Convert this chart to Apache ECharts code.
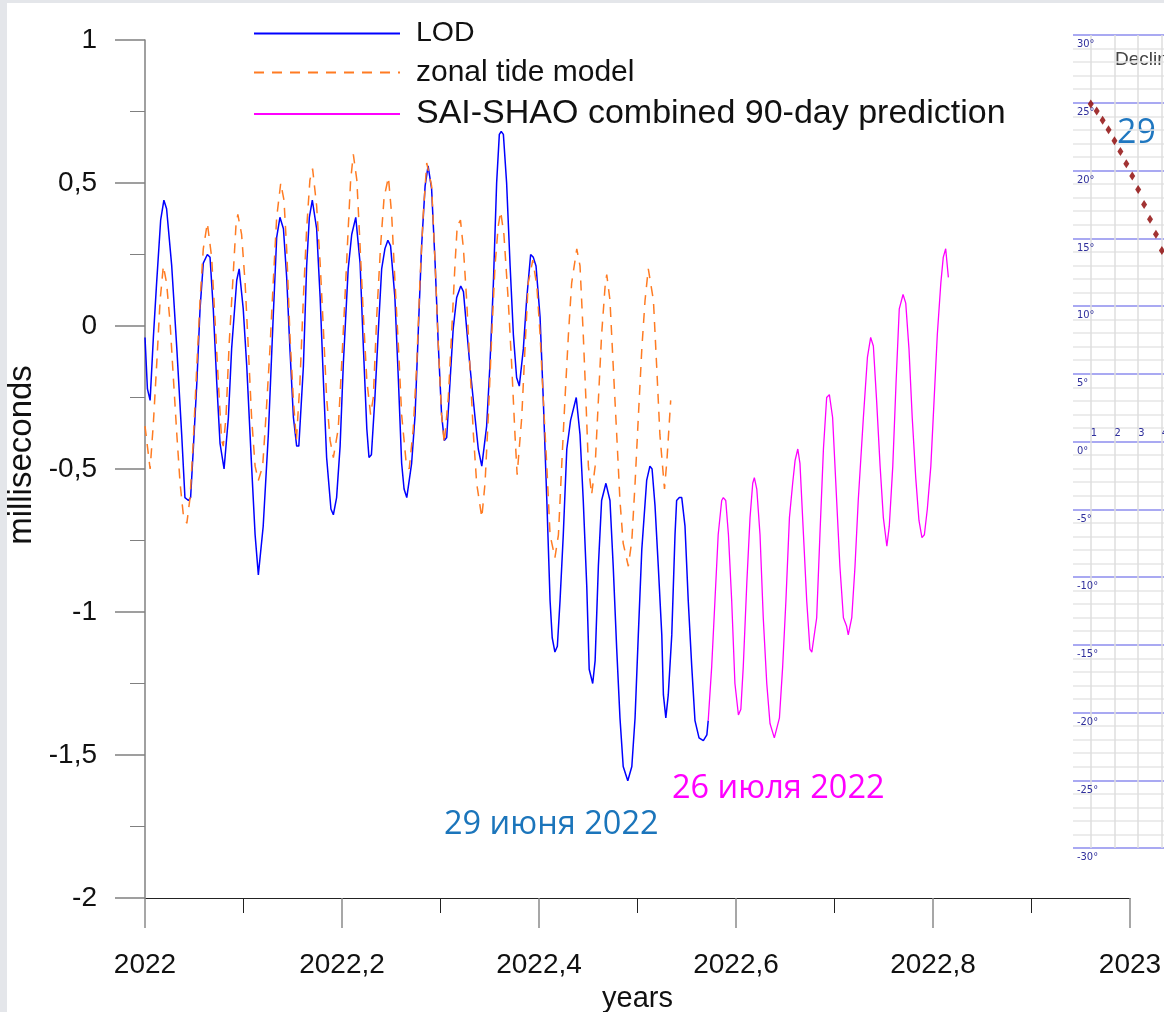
<!DOCTYPE html>
<html>
<head>
<meta charset="utf-8">
<title>LOD and zonal tides, 2022</title>
<script src="https://cdn.jsdelivr.net/npm/echarts@6/dist/echarts.min.js"></script>
<style>
  html, body { margin: 0; padding: 0; background: #e4e6ea; overflow: hidden; }
  #paper { position: absolute; left: 7px; top: 3px; right: 0; bottom: 0; background: #ffffff; }
  #chart { position: absolute; left: 0; top: 0; width: 1164px; height: 1012px; }
</style>
</head>
<body>
<div id="paper"></div>
<div id="chart"></div>
<script>
// Time is stored as days since 2022-01-01; values in milliseconds.
const YEAR0 = 2022;
const DAYS_PER_YEAR = 365;

// Observed length-of-day excess [day, ms]
const lodPoints = [
  [0,-0.04],[0.9,-0.22],[1.9,-0.26],[3.1,-0.04],[4.3,0.15],[5.8,0.37],[7.0,0.44],[8.0,0.41],[9.9,0.21],[11.8,-0.08],
  [13.6,-0.38],[14.8,-0.60],[16.1,-0.61],[16.9,-0.60],[17.9,-0.43],[19.2,-0.20],[20.4,0.06],[21.6,0.22],[23.1,0.25],[24.1,0.24],
  [25.3,0.06],[26.6,-0.20],[27.8,-0.41],[29.3,-0.50],[30.0,-0.50],[30.9,-0.32],[32.1,-0.08],[34.0,0.16],[34.9,0.20],[36.4,0.06],
  [37.7,-0.14],[39.5,-0.49],[40.8,-0.73],[42.0,-0.87],[43.8,-0.70],[45.7,-0.38],[47.5,0.03],[48.8,0.31],[50.0,0.38],[51.3,0.34],
  [52.5,0.17],[53.7,-0.08],[55.0,-0.32],[56.2,-0.42],[57.0,-0.42],[58.7,-0.14],[59.9,0.21],[60.9,0.38],[62.0,0.44],[63.6,0.34],
  [64.9,0.10],[66.1,-0.19],[67.3,-0.46],[68.9,-0.64],[69.8,-0.66],[71.0,-0.60],[72.3,-0.42],[73.5,-0.13],[75.3,0.20],[76.6,0.32],
  [78.1,0.38],[79.7,0.22],[80.9,-0.07],[82.2,-0.36],[83.0,-0.46],[83.9,-0.45],[85.2,-0.25],[86.5,-0.01],[87.7,0.20],[88.9,0.27],
  [90.0,0.30],[91.0,0.28],[92.6,0.10],[93.9,-0.19],[95.1,-0.48],[96.0,-0.57],[97.0,-0.60],[98.8,-0.48],[100.1,-0.31],[101.3,-0.01],
  [102.5,0.28],[103.8,0.49],[104.9,0.56],[106.2,0.48],[107.5,0.22],[108.7,-0.07],[109.9,-0.31],[110.9,-0.40],[111.8,-0.39],[113.0,-0.20],
  [114.2,-0.01],[115.5,0.10],[117.0,0.14],[118.0,0.12],[119.2,-0.01],[120.4,-0.14],[122.3,-0.32],[123.5,-0.43],[124.8,-0.49],[126.6,-0.35],
  [127.8,-0.14],[129.1,0.15],[130.3,0.50],[131.3,0.67],[132.0,0.68],[132.8,0.67],[134.0,0.50],[135.3,0.21],[136.5,-0.03],[137.7,-0.18],
  [138.7,-0.21],[140.2,-0.08],[141.4,0.09],[142.9,0.25],[143.9,0.24],[144.9,0.21],[146.4,0.03],[147.6,-0.26],[148.9,-0.61],[150.1,-0.96],
  [150.9,-1.09],[151.9,-1.14],[152.8,-1.12],[153.8,-0.96],[155.0,-0.73],[156.3,-0.43],[157.7,-0.33],[159.8,-0.25],[161.2,-0.38],[162.4,-0.61],
  [163.7,-0.91],[164.6,-1.20],[165.9,-1.25],[166.8,-1.17],[168.0,-0.84],[169.2,-0.61],[170.8,-0.55],[172.3,-0.61],[173.5,-0.84],[174.8,-1.13],
  [176.0,-1.37],[177.2,-1.54],[178.9,-1.59],[180.4,-1.54],[181.6,-1.37],[182.8,-1.08],[184.1,-0.78],[185.9,-0.54],[187.1,-0.49],[187.9,-0.50],
  [189.0,-0.63],[190.2,-0.84],[191.5,-1.08],[192.1,-1.29],[193.0,-1.37],[193.9,-1.29],[195.2,-1.08],[196.4,-0.73],[197.0,-0.61],[198.0,-0.60],
  [198.9,-0.60],[200.1,-0.70],[201.3,-0.96],[202.6,-1.19],[203.8,-1.38],[205.3,-1.44],[206.9,-1.45],[208.2,-1.43],[208.7,-1.38]
];

// Zonal tide model [day, ms]
const tidePoints = [
  [0,-0.35],[1.9,-0.50],[3.1,-0.34],[4.3,-0.14],[5.6,0.09],[6.8,0.21],[8.0,0.15],[9.3,0.01],[10.5,-0.18],[11.8,-0.38],
  [13.0,-0.55],[14.2,-0.66],[15.5,-0.69],[16.7,-0.60],[17.9,-0.40],[19.2,-0.14],[20.4,0.09],[21.6,0.27],[23.1,0.36],[24.7,0.24],
  [25.9,0.03],[27.2,-0.20],[28.4,-0.40],[29.0,-0.42],[30.0,-0.32],[31.2,-0.06],[32.5,0.15],[33.7,0.35],[34.4,0.39],[35.8,0.32],
  [37.1,0.15],[38.3,-0.08],[39.5,-0.32],[40.8,-0.49],[42.0,-0.54],[43.6,-0.49],[44.8,-0.32],[46.3,-0.08],[47.5,0.15],[48.8,0.38],
  [50.3,0.50],[51.5,0.44],[52.5,0.27],[53.7,-0.03],[55.0,-0.26],[56.1,-0.40],[57.4,-0.20],[58.7,0.10],[59.9,0.34],[61.1,0.51],
  [62.1,0.55],[63.6,0.42],[64.9,0.22],[66.1,-0.01],[67.3,-0.25],[68.6,-0.40],[69.8,-0.46],[71.6,-0.36],[72.9,-0.13],[74.1,0.10],
  [75.3,0.34],[76.2,0.51],[77.2,0.60],[78.5,0.51],[79.7,0.28],[80.9,0.04],[82.2,-0.19],[83.6,-0.31],[84.6,-0.25],[85.9,0.04],
  [87.3,0.28],[88.6,0.45],[90.2,0.52],[91.4,0.39],[92.6,0.16],[93.9,-0.07],[95.1,-0.31],[96.7,-0.47],[97.9,-0.50],[99.4,-0.36],
  [100.7,-0.13],[101.9,0.16],[103.1,0.39],[104.4,0.57],[106.2,0.49],[107.5,0.22],[108.7,-0.07],[109.9,-0.31],[110.9,-0.41],[112.4,-0.25],
  [113.7,-0.01],[114.9,0.22],[115.7,0.35],[116.9,0.37],[118.0,0.27],[119.2,0.09],[120.4,-0.14],[121.7,-0.38],[122.9,-0.55],[124.8,-0.67],
  [126.0,-0.55],[127.2,-0.32],[128.5,-0.03],[129.7,0.21],[130.9,0.35],[131.8,0.40],[133.0,0.32],[134.6,0.09],[135.9,-0.14],[137.1,-0.38],
  [137.9,-0.52],[139.6,-0.32],[140.8,-0.08],[142.0,0.15],[143.7,0.23],[145.2,0.14],[146.4,-0.03],[147.6,-0.26],[148.9,-0.49],[150.1,-0.73],
  [151.9,-0.81],[153.2,-0.73],[154.4,-0.49],[155.6,-0.26],[156.9,-0.03],[158.1,0.15],[160.0,0.27],[161.2,0.21],[162.4,-0.03],[163.4,-0.26],
  [164.3,-0.49],[165.5,-0.59],[166.8,-0.49],[168.0,-0.26],[169.2,-0.03],[170.5,0.14],[171.1,0.18],[172.3,0.09],[173.5,-0.14],[174.8,-0.38],
  [176.0,-0.61],[177.2,-0.76],[179.1,-0.84],[180.4,-0.75],[181.6,-0.55],[182.8,-0.32],[184.1,-0.08],[185.3,0.09],[186.5,0.20],[187.1,0.20],
  [188.4,0.09],[189.6,-0.14],[190.8,-0.38],[192.5,-0.57],[193.4,-0.47],[194.8,-0.26]
];

// SAI-SHAO combined 90-day prediction [day, ms]
const predPoints = [
  [208.7,-1.38],[210.0,-1.19],[211.2,-0.96],[212.4,-0.73],[213.7,-0.61],[214.3,-0.60],[215.2,-0.61],[216.2,-0.73],[217.4,-0.96],[218.6,-1.25],
  [219.9,-1.36],[220.8,-1.34],[221.7,-1.19],[223.0,-0.90],[224.2,-0.67],[225.2,-0.55],[225.8,-0.53],[226.7,-0.57],[227.9,-0.73],[229.1,-1.02],
  [230.4,-1.25],[231.6,-1.39],[233.2,-1.44],[233.8,-1.44],[235.1,-1.37],[236.3,-1.19],[237.5,-0.96],[238.8,-0.67],[240.0,-0.55],[240.9,-0.47],
  [241.9,-0.43],[242.7,-0.48],[244.0,-0.73],[245.2,-0.96],[246.4,-1.13],[247.1,-1.14],[247.7,-1.14],[248.9,-1.02],[250.1,-0.73],[251.4,-0.43],
  [252.6,-0.25],[253.6,-0.24],[254.8,-0.32],[256.3,-0.61],[257.5,-0.84],[258.8,-1.02],[260.0,-1.05],[260.6,-1.08],[261.9,-1.02],[263.1,-0.84],
  [264.3,-0.61],[266.2,-0.32],[267.7,-0.11],[268.9,-0.04],[269.9,-0.07],[271.1,-0.26],[272.4,-0.49],[273.6,-0.67],[274.9,-0.77],[275.8,-0.70],
  [277.1,-0.49],[278.3,-0.20],[279.5,0.06],[280.9,0.11],[281.9,0.08],[283.1,-0.08],[284.3,-0.32],[285.6,-0.53],[286.8,-0.68],[287.9,-0.74],
  [288.8,-0.73],[289.9,-0.64],[291.2,-0.49],[292.4,-0.26],[293.6,-0.03],[294.9,0.15],[295.8,0.24],[296.7,0.27],[297.7,0.17]
];

// Lunar declination, 6-hourly [day of month, degrees]
const declinationPoints = [
  [1,24.9],[1.25,24.4],[1.5,23.7],[1.75,23.0],[2,22.2],[2.25,21.4],[2.5,20.5],
  [2.75,19.6],[3,18.6],[3.25,17.5],[3.5,16.4],[3.75,15.3],[4,14.1]
];

// Axis ranges
const xRange = [2022, 2023];
const yRange = [-2, 1];
const decRange = [-30, 30];
const decDayRange = [0.25, 4.09];

const seriesNames = ['LOD', 'zonal tide model', 'SAI-SHAO combined 90-day prediction'];

const toYear = pts => pts.map(p => [YEAR0 + p[0] / DAYS_PER_YEAR, p[1]]);
const comma = v => String(Math.round(v * 10) / 10).replace('.', ',');

const SANS = '"Liberation Sans", Arial, sans-serif';
const TXT = '#111111';
const INSET_TXT = '#2f2f9c';
const INSET_FONT = '"DejaVu Sans Condensed", sans-serif';

const chart = echarts.init(document.getElementById('chart'), null, { renderer: 'canvas' });

chart.setOption({
  animation: false,
  textStyle: { fontFamily: SANS },
  grid: [
    { left: 145, top: 40, width: 985, height: 858, outerBoundsMode: 'none' },
    { left: 1073, top: 35, width: 91, height: 813, outerBoundsMode: 'none' }
  ],
  legend: {
    orient: 'vertical',
    left: 253,
    top: 19,
    padding: 0,
    itemWidth: 146,
    itemHeight: 22,
    itemGap: 9.5,
    selectedMode: false,
    itemStyle: { opacity: 0 },
    textStyle: { color: TXT, fontFamily: SANS, fontSize: 29, padding: [0, 0, 0, 11] },
    data: [
      { name: seriesNames[0], textStyle: { fontSize: 28.5 } },
      { name: seriesNames[1], textStyle: { fontSize: 30 } },
      { name: seriesNames[2], textStyle: { fontSize: 34 } }
    ]
  },
  xAxis: [
    {
      gridIndex: 0, type: 'value', min: xRange[0], max: xRange[1], interval: 0.2,
      axisLine: { onZero: false, lineStyle: { color: '#222', width: 1 } },
      axisTick: { length: 30, lineStyle: { color: '#8a8a8a', width: 1.5 } },
      minorTick: { show: true, splitNumber: 2, length: 15, lineStyle: { color: '#222', width: 1 } },
      splitLine: { show: false },
      axisLabel: { margin: 53, fontSize: 28, color: TXT, formatter: v => comma(v) },
      name: 'years', nameLocation: 'middle', nameGap: 86, nameMoveOverlap: false,
      nameTextStyle: { fontSize: 29, color: TXT }
    },
    {
      // day-of-month scale of the declination panel, labelled along its 0° line
      gridIndex: 1, type: 'value', min: decDayRange[0], max: decDayRange[1], minInterval: 1, maxInterval: 1,
      position: 'bottom', offset: -406.5,
      axisLine: { show: false, onZero: false },
      axisTick: { show: false },
      splitLine: { show: true, showMinLine: false, showMaxLine: false, lineStyle: { color: '#dedede', width: 1.5 } },
      axisLabel: {
        inside: true, margin: 3, align: 'left', fontSize: 11, color: INSET_TXT, fontFamily: INSET_FONT,
        showMinLabel: false, showMaxLabel: false,
        formatter: v => (Math.abs(v - Math.round(v)) < 1e-6 ? String(Math.round(v)) : '')
      }
    }
  ],
  yAxis: [
    {
      gridIndex: 0, type: 'value', min: yRange[0], max: yRange[1], interval: 0.5,
      axisLine: { show: true, onZero: false, lineStyle: { color: '#808080', width: 1.5 } },
      axisTick: { length: 30, lineStyle: { color: '#808080', width: 1.5 } },
      minorTick: { show: true, splitNumber: 2, length: 15, lineStyle: { color: '#808080', width: 1 } },
      splitLine: { show: false },
      axisLabel: { margin: 48, fontSize: 28, color: TXT, formatter: v => comma(v) },
      name: 'milliseconds', nameLocation: 'middle', nameGap: 107, nameMoveOverlap: false,
      nameTextStyle: { fontSize: 33, color: TXT, padding: [0, 0, 0, 28] }
    },
    {
      gridIndex: 1, type: 'value', min: decRange[0], max: decRange[1], interval: 5,
      axisLine: { show: false }, axisTick: { show: false },
      splitLine: { lineStyle: { color: '#a9a9f2', width: 2 } },
      minorTick: { show: false, splitNumber: 5 },
      minorSplitLine: { show: true, lineStyle: { color: '#e6e6e6', width: 1.5 } },
      axisLabel: {
        inside: true, margin: 4, verticalAlign: 'top', padding: [4, 0, 0, 0],
        fontSize: 11, color: INSET_TXT, fontFamily: INSET_FONT,
        formatter: '{value}°'
      }
    }
  ],
  graphic: [
    { type: 'text', left: 1115, top: 50, silent: true,
      style: { text: 'Declination', fill: '#444', fontSize: 19, fontFamily: SANS } },
    { type: 'text', left: 1117, top: 116, silent: true,
      style: { text: '29', fill: '#1f77c0', fontSize: 34, fontFamily: '"Open Sans", sans-serif' } },
    { type: 'text', left: 444, top: 808, silent: true,
      style: { text: '29 июня 2022', fill: '#1b75bb', fontSize: 32.5, fontFamily: '"Open Sans", sans-serif' } },
    { type: 'text', left: 672, top: 772, silent: true,
      style: { text: '26 июля 2022', fill: '#ff00ff', fontSize: 32.5, fontFamily: '"Open Sans", sans-serif' } }
  ],
  series: [
    {
      name: seriesNames[0], type: 'line', xAxisIndex: 0, yAxisIndex: 0,
      data: toYear(lodPoints), symbol: 'none',
      lineStyle: { color: '#0000ff', width: 1.5 }, itemStyle: { color: '#0000ff' }
    },
    {
      name: seriesNames[1], type: 'line', xAxisIndex: 0, yAxisIndex: 0,
      data: toYear(tidePoints), symbol: 'none',
      lineStyle: { color: '#ff7b22', width: 1.5, type: [10, 8] }, itemStyle: { color: '#ff7b22' }
    },
    {
      name: seriesNames[2], type: 'line', xAxisIndex: 0, yAxisIndex: 0,
      data: toYear(predPoints), symbol: 'none',
      lineStyle: { color: '#ff00ff', width: 1.3 }, itemStyle: { color: '#ff00ff' }
    },
    {
      name: 'Declination', type: 'scatter', xAxisIndex: 1, yAxisIndex: 1,
      data: declinationPoints, symbol: 'diamond', symbolSize: [6, 9],
      itemStyle: { color: '#8b0000' }
    }
  ]
});
</script>
</body>
</html>
